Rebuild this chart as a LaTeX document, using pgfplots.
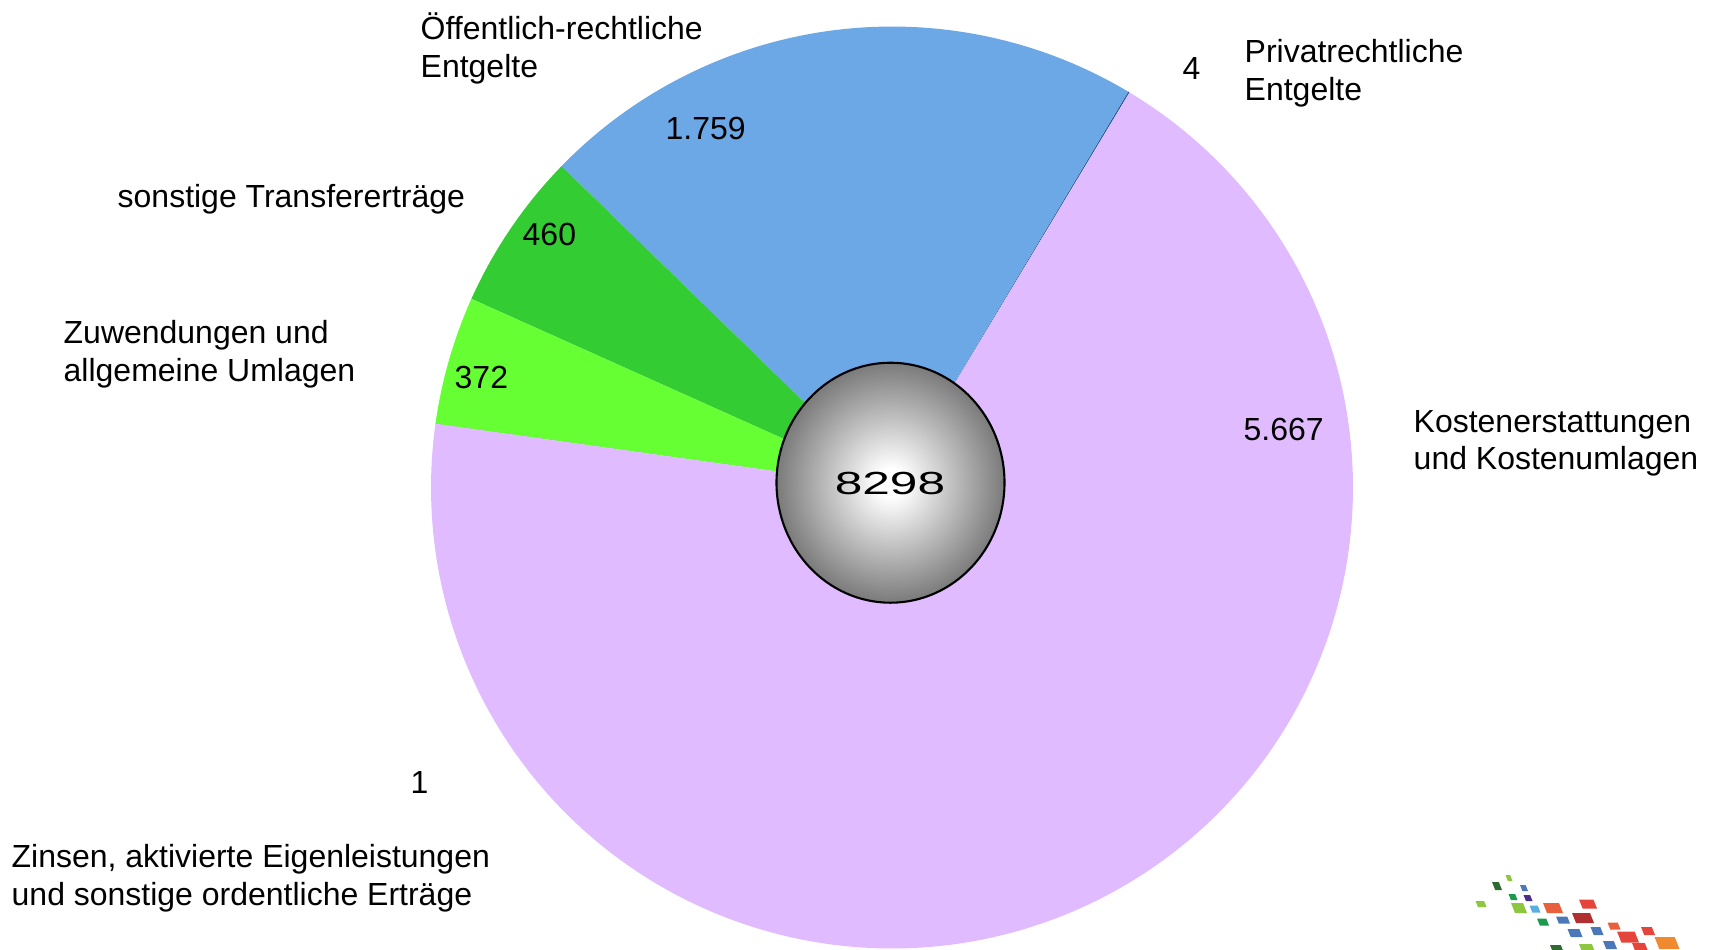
\documentclass[border=0pt]{standalone}
\usepackage{pgfplots}
\usepackage{pgfplotstable}
\pgfplotsset{compat=1.18}
\usepackage{fontspec}
\setmainfont{Liberation Sans}

\definecolor{kosten}{HTML}{E0BBFF}
\definecolor{oeff}{HTML}{6CA8E6}
\definecolor{transfer}{HTML}{33CC33}
\definecolor{zuwend}{HTML}{66FF33}
\definecolor{privat}{HTML}{2F5597}
\definecolor{zinsen}{HTML}{C58CFF}
% logo colours
\definecolor{lgdk}{HTML}{2E6B30}
\definecolor{lglt}{HTML}{8DC63F}
\definecolor{lgbl}{HTML}{4A78B8}
\definecolor{lgpu}{HTML}{4B2D8A}
\definecolor{lglb}{HTML}{5AADE0}
\definecolor{lgor}{HTML}{E8603C}
\definecolor{lgrd}{HTML}{E5443A}
\definecolor{lgdr}{HTML}{B03030}
\definecolor{lggr}{HTML}{1A9A4A}
\definecolor{lgog}{HTML}{F08A30}

\pgfdeclareradialshading{ballgray}{\pgfpointorigin}{%
  color(0bp)=(white); color(3bp)=(white); color(25bp)=(black!52); color(50bp)=(black!52)}

% slices, counter-clockwise from the top right
\pgfplotstableread{
name value
privat 4
oeff 1759
transfer 460
zuwend 372
zinsen 1
kosten 5667
}\piedata

\pgfplotstablegetelem{0}{value}\of\piedata \let\vA\pgfplotsretval
\pgfplotstablegetelem{1}{value}\of\piedata \let\vB\pgfplotsretval
\pgfplotstablegetelem{2}{value}\of\piedata \let\vC\pgfplotsretval
\pgfplotstablegetelem{3}{value}\of\piedata \let\vD\pgfplotsretval
\pgfplotstablegetelem{4}{value}\of\piedata \let\vE\pgfplotsretval
\pgfplotstablegetelem{5}{value}\of\piedata \let\vF\pgfplotsretval

\pgfmathsetmacro\total{\vA+\vB+\vC+\vD+\vE+\vF}
\pgfmathsetmacro\k{360/\total}
\pgfmathsetmacro\aA{59.0}
\pgfmathsetmacro\aB{\aA+\vA*\k}
\pgfmathsetmacro\aC{\aB+\vB*\k}
\pgfmathsetmacro\aD{\aC+\vC*\k}
\pgfmathsetmacro\aE{\aD+\vD*\k}
\pgfmathsetmacro\aF{\aE+\vE*\k}
\pgfmathsetmacro\aG{\aF+\vF*\k}

\def\cx{892}
\def\cy{487.5}
\def\r{461}

\newcommand\lbl[3]{\node[anchor=base west, inner sep=0pt] at (axis cs:#1,#2) {#3};}
\newcommand\lsq[5]{\fill[#5] (axis cs:{#1-#3/2},{#2-#4/2}) -- (axis cs:{#1+#3/2-0.4*#4},{#2-#4/2})
  -- (axis cs:{#1+#3/2},{#2+#4/2}) -- (axis cs:{#1-#3/2+0.4*#4},{#2+#4/2}) -- cycle;}

\begin{document}
\begin{tikzpicture}[font=\fontsize{9.1}{11}\selectfont]
\begin{axis}[
    at={(0,0)}, anchor=south west,
    scale only axis, width=17.17cm, height=9.5cm,
    xmin=0, xmax=1717, ymin=0, ymax=950, y dir=reverse,
    hide axis, clip=false]
  \addplot[draw=none, fill=privat, domain=\aA:\aB, samples=5, variable=\t]
    ({\cx+\r*cos(\t)}, {\cy-\r*sin(\t)}) -- (axis cs:\cx,\cy) -- cycle;
  \addplot[draw=none, fill=oeff, domain=\aB:\aC, samples=120, variable=\t]
    ({\cx+\r*cos(\t)}, {\cy-\r*sin(\t)}) -- (axis cs:\cx,\cy) -- cycle;
  \addplot[draw=none, fill=transfer, domain=\aC:\aD, samples=40, variable=\t]
    ({\cx+\r*cos(\t)}, {\cy-\r*sin(\t)}) -- (axis cs:\cx,\cy) -- cycle;
  \addplot[draw=none, fill=zuwend, domain=\aD:\aE, samples=40, variable=\t]
    ({\cx+\r*cos(\t)}, {\cy-\r*sin(\t)}) -- (axis cs:\cx,\cy) -- cycle;
  \addplot[draw=none, fill=zinsen, domain=\aE:\aF, samples=5, variable=\t]
    ({\cx+\r*cos(\t)}, {\cy-\r*sin(\t)}) -- (axis cs:\cx,\cy) -- cycle;
  \addplot[draw=none, fill=kosten, domain=\aF:\aG, samples=300, variable=\t]
    ({\cx+\r*cos(\t)}, {\cy-\r*sin(\t)}) -- (axis cs:\cx,\cy) -- cycle;

  % centre ball with the total
  \path[shading=ballgray, draw=black, line width=0.6pt]
    (axis cs:890.5,482.7) ellipse [x radius=114, y radius=120];
  \node[inner sep=0pt] at (axis cs:890,483) {\scalebox{1.55}[1]{8298}};

  % values
  \lbl{665}{139}{1.759}
  \lbl{1182}{79}{4}
  \lbl{522}{245}{460}
  \lbl{454}{388}{372}
  \lbl{1243}{440}{5.667}
  \lbl{410}{793}{1}

  % category labels
  \lbl{420}{39}{Öffentlich-rechtliche}
  \lbl{420}{77}{Entgelte}
  \lbl{1244}{62}{Privatrechtliche}
  \lbl{1244}{100}{Entgelte}
  \lbl{117}{207}{sonstige Transfererträge}
  \lbl{63}{343}{Zuwendungen und}
  \lbl{63}{381}{allgemeine Umlagen}
  \lbl{1413}{432}{Kostenerstattungen}
  \lbl{1413}{469}{und Kostenumlagen}
  \lbl{11}{867}{Zinsen, aktivierte Eigenleistungen}
  \lbl{11}{905}{und sonstige ordentliche Erträge}

  % logo, bottom right
  \lsq{1497}{886}{10}{8}{lgdk}
  \lsq{1509}{878}{7}{6}{lglt}
  \lsq{1524}{888}{8}{6}{lgbl}
  \lsq{1481}{904}{11}{6}{lglt}
  \lsq{1513}{897}{9}{6}{lggr}
  \lsq{1528}{898}{9}{6}{lgpu}
  \lsq{1519}{908}{16}{10}{lglt}
  \lsq{1535}{909}{11}{7}{lglb}
  \lsq{1553}{908}{20}{10}{lgor}
  \lsq{1588}{904}{18}{9}{lgrd}
  \lsq{1583}{918}{22}{10}{lgdr}
  \lsq{1543}{922}{12}{7}{lggr}
  \lsq{1563}{920}{14}{7}{lgbl}
  \lsq{1614}{926}{13}{7}{lgor}
  \lsq{1575}{933}{15}{8}{lgbl}
  \lsq{1597}{931}{13}{8}{lgbl}
  \lsq{1628}{937}{22}{11}{lgrd}
  \lsq{1648}{931}{14}{8}{lgrd}
  \lsq{1667}{943}{25}{12}{lgog}
  \lsq{1557}{949}{14}{8}{lgdk}
  \lsq{1587}{948}{16}{8}{lglt}
  \lsq{1610}{945}{14}{8}{lgbl}
  \lsq{1640}{947}{16}{8}{lgrd}
\end{axis}
\pgfresetboundingbox
\path[use as bounding box] (0,0) rectangle (17.17cm,9.5cm);
\end{tikzpicture}
\end{document}
